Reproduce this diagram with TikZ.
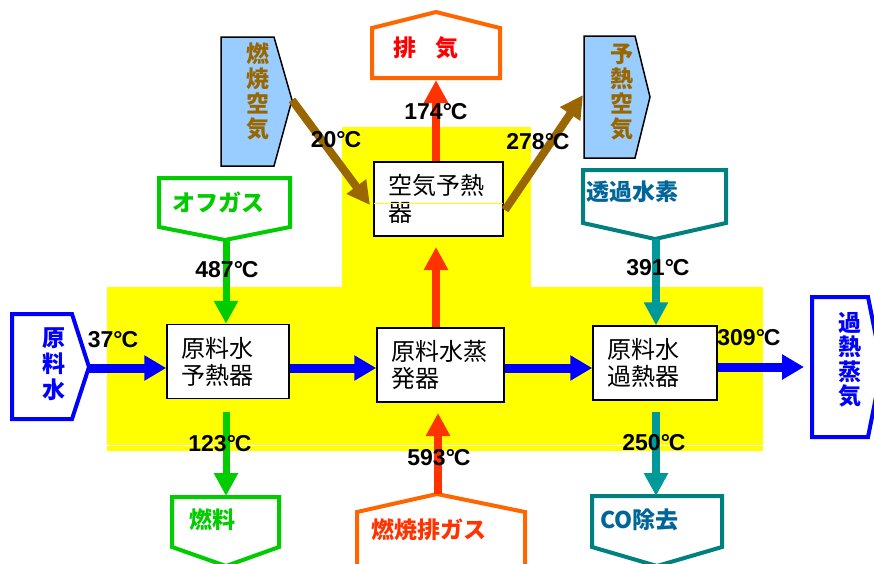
\documentclass[tikz,border=0pt]{standalone}
\usepackage{fontspec}
\setmainfont{Liberation Sans}
\newfontfamily\jp{Noto Sans CJK JP}
\usetikzlibrary{arrows.meta}
\definecolor{cblue}{RGB}{0,0,255}
\definecolor{cgreen}{RGB}{0,204,0}
\definecolor{corange}{RGB}{255,102,0}
\definecolor{cred}{RGB}{255,0,0}
\definecolor{credarrow}{RGB}{255,51,0}
\definecolor{ctealarrow}{RGB}{0,153,153}
\definecolor{ctealline}{RGB}{0,128,128}
\definecolor{ctealtext}{RGB}{0,102,153}
\definecolor{cbrown}{RGB}{153,102,0}
\definecolor{clightblue}{RGB}{153,204,255}
\definecolor{cyellow}{RGB}{255,255,0}
\newcommand\degc{°\kern-1pt C}
\tikzset{
  unitbox/.style={draw=black, line width=1.5pt, fill=white, inner xsep=14pt, inner ysep=0pt,
    minimum height=74pt, align=left, font=\jp\fontsize{24}{27}\selectfont},
  outl/.style={line width=4pt, fill=white, line join=miter},
  bluefill/.style={draw=black, line width=1.5pt, fill=clightblue, line join=miter},
  lab/.style={inner sep=0pt, font=\jp\bfseries\fontsize{23}{25}\selectfont, align=center},
  temp/.style={inner sep=0pt, font=\bfseries\fontsize{23}{23}\selectfont},
  fatarrow/.style={line width=9pt, -{Triangle[length=22pt,width=24pt]}},
  midarrow/.style={line width=8pt, -{Triangle[length=23pt,width=23pt]}},
}
\begin{document}
\begin{tikzpicture}[x=1pt,y=-1pt]
\useasboundingbox (0,0) rectangle (874,563);
% yellow background
\fill[cyellow] (107,287) rectangle (763,451);
\fill[cyellow] (342,127) rectangle (531,288);
\draw[white, line width=1pt] (107,445) -- (763,445);

% input / output shapes
\draw[outl, draw=cblue] (12,314) -- (72,314) -- (89,367) -- (72,419) -- (12,419) -- cycle;
\coordinate (rawTip) at (89,368);
\node[lab, text=cblue, font=\jp\bfseries\fontsize{23}{26}\selectfont] (rawLab) at (54,364) {原\\料\\水};

\draw[outl, draw=cblue] (812,297) -- (868,297) -- (882,367) -- (868,437) -- (812,437) -- cycle;
\coordinate (steamIn) at (804,367);
\node[lab, text=cblue, font=\jp\bfseries\fontsize{23}{24.5}\selectfont] (steamLab) at (850,360) {過\\熱\\蒸\\気};

\draw[bluefill] (221,37) -- (274,37) -- (292,100) -- (274,166) -- (221,166) -- cycle;
\coordinate (airTip) at (292,100);
\node[lab, text=cbrown] (airLab) at (258,91) {燃\\焼\\空\\気};

\draw[bluefill] (584,36) -- (635,36) -- (650,97) -- (635,158) -- (584,158) -- cycle;
\coordinate (hotairIn) at (583,95);
\node[lab, text=cbrown] (hotairLab) at (622,92) {予\\熱\\空\\気};

\draw[outl, draw=corange] (372,78) -- (372,28) -- (436,12) -- (500,28) -- (500,78) -- cycle;
\coordinate (exhIn) at (436,80);
\node[lab, text=cred] (exhLab) at (426,48) {排\hspace{0.8em}気};

\draw[outl, draw=cgreen] (159,178) -- (290,178) -- (290,227) -- (225,240) -- (159,227) -- cycle;
\coordinate (offTip) at (226,240);
\node[lab, text=cgreen, anchor=west] (offLab) at (172,202) {オフガス};

\draw[outl, draw=ctealline] (583,170) -- (726,170) -- (726,223) -- (655,239) -- (583,223) -- cycle;
\coordinate (hydTip) at (656,239);
\node[lab, text=ctealtext, anchor=west] (hydLab) at (586,192) {透過水素};

\draw[outl, draw=cgreen] (172,497) -- (279,497) -- (279,547) -- (226,566) -- (172,547) -- cycle;
\coordinate (fuelIn) at (226,496);
\node[lab, text=cgreen, anchor=west] (fuelLab) at (189,520) {燃料};

\draw[outl, draw=corange] (357,590) -- (357,512) -- (437,494) -- (525,512) -- (525,590);
\coordinate (gasTip) at (438,494);
\node[lab, text=credarrow, anchor=west] (gasLab) at (371,530) {燃焼排ガス};

\draw[outl, draw=ctealline] (592,496) -- (722,496) -- (722,547) -- (657,566) -- (592,547) -- cycle;
\coordinate (coIn) at (656,496);
\node[lab, text=ctealtext, anchor=west] (coLab) at (600,520) {CO除去};

% unit boxes
\node[unitbox, text width=94pt] (pre) at (228,361.5) {原料水\\予熱器};
\node[unitbox, text width=99pt] (evap) at (440.5,365) {原料水蒸\\発器};
\node[unitbox, text width=96pt] (sup) at (655,363) {原料水\\過熱器};
\node[unitbox, text width=101pt] (aph) at (438.5,199) {空気予熱\\器};
\draw[cyellow, line width=0.8pt] ([xshift=1pt]aph.west |- 0,203) -- ([xshift=-1pt]aph.east |- 0,203);

% connectors
\draw[fatarrow, cblue] (rawTip) -- (rawTip -| pre.west);
\draw[fatarrow, cblue] (pre.east |- rawTip) -- (evap.west |- rawTip);
\draw[fatarrow, cblue] (evap.east |- rawTip) -- (sup.west |- rawTip);
\draw[fatarrow, cblue] (sup.east |- steamIn) -- (steamIn);

\draw[midarrow, cgreen, line width=7pt] (offTip) -- (offTip |- pre.north);
\coordinate (preOut) at (226,412);
\draw[midarrow, cgreen, line width=7pt] (preOut) -- (fuelIn);

\coordinate (evapIn) at (438,413);
\draw[midarrow, credarrow] (gasTip) -- (evapIn);
\coordinate (aphIn) at (436,247);
\draw[midarrow, credarrow] (evap.north -| aphIn) -- (aphIn);
\draw[midarrow, credarrow] (aph.north -| exhIn) -- (exhIn);

\draw[midarrow, ctealarrow] (hydTip) -- (hydTip |- sup.north);
\coordinate (supOut) at (656,412);
\draw[midarrow, ctealarrow] (supOut) -- (coIn);

\coordinate (aphW) at (370,205);
\draw[midarrow, cbrown] (airTip) -- (aphW);
\coordinate (aphE) at (505,210);
\draw[midarrow, cbrown] (aphE) -- (hotairIn);

% temperatures
\node[temp] (t20) at (336,140) {20\degc};
\node[temp] (t174) at (436,112) {174\degc};
\node[temp] (t278) at (538,142) {278\degc};
\node[temp] (t487) at (227,270) {487\degc};
\node[temp] (t391) at (658,268) {391\degc};
\node[temp] (t37) at (113,340) {37\degc};
\node[temp] (t309) at (749,338) {309\degc};
\node[temp] (t123) at (220,444) {123\degc};
\node[temp] (t593) at (439,458) {593\degc};
\node[temp] (t250) at (654,443) {250\degc};
\end{tikzpicture}
\end{document}
